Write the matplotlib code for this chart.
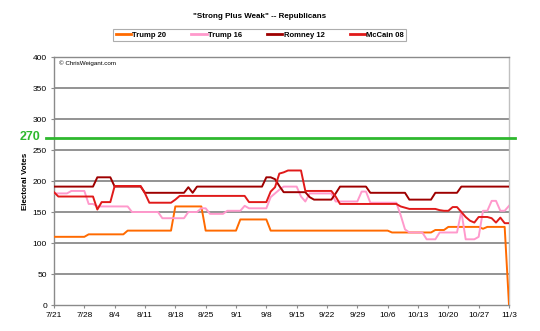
import numpy as np
import pandas as pd
import matplotlib
matplotlib.use('Agg')
from matplotlib import pyplot as plt

plt.rcParams['font.family'] = ['Liberation Sans', 'DejaVu Sans']

# daily values, 7/21 through 11/3
dates = pd.date_range('2020-07-21', '2020-11-03')
tick_labels = ['7/21', '7/28', '8/4', '8/11', '8/18', '8/25', '9/1', '9/8',
               '9/15', '9/22', '9/29', '10/6', '10/13', '10/20', '10/27', '11/3']

trump20 = [110, 110, 110, 110, 110, 110, 110,
           110, 114, 114, 114, 114, 114, 114,
           114, 114, 114, 120, 120, 120, 120,
           120, 120, 120, 120, 120, 120, 120,
           159, 159, 159, 159, 159, 159, 159,
           120, 120, 120, 120, 120, 120, 120,
           120, 138, 138, 138, 138, 138, 138,
           138, 120, 120, 120, 120, 120, 120,
           120, 120, 120, 120, 120, 120, 120,
           120, 120, 120, 120, 120, 120, 120,
           120, 120, 120, 120, 120, 120, 120,
           120, 117, 117, 117, 117, 117, 117,
           117, 117, 117, 117, 121, 121, 121,
           126, 126, 126, 126, 126, 126, 126,
           126, 123, 126, 126, 126, 126, 126,
           0]

trump16 = [180, 180, 180, 180, 184, 184, 184,
           184, 163, 163, 159, 159, 159, 159,
           159, 159, 159, 159, 150, 150, 150,
           150, 150, 150, 150, 140, 140, 140,
           140, 140, 140, 150, 150, 150, 156,
           156, 147, 147, 147, 147, 152, 152,
           152, 152, 160, 156, 156, 156, 156,
           156, 174, 180, 186, 191, 191, 191,
           191, 175, 167, 180, 180, 180, 180,
           180, 180, 167, 167, 167, 167, 167,
           167, 183, 183, 165, 165, 165, 165,
           165, 165, 165, 145, 122, 117, 117,
           117, 117, 106, 106, 106, 117, 117,
           117, 117, 117, 151, 106, 106, 106,
           110, 152, 152, 168, 168, 152, 152,
           160]

romney12 = [191, 191, 191, 191, 191, 191, 191,
            191, 191, 191, 206, 206, 206, 206,
            191, 191, 191, 191, 191, 191, 191,
            181, 181, 181, 181, 181, 181, 181,
            181, 181, 181, 190, 181, 191, 191,
            191, 191, 191, 191, 191, 191, 191,
            191, 191, 191, 191, 191, 191, 191,
            206, 206, 203, 192, 182, 182, 182,
            182, 182, 182, 174, 170, 170, 170,
            170, 170, 180, 191, 191, 191, 191,
            191, 191, 191, 181, 181, 181, 181,
            181, 181, 181, 181, 181, 170, 170,
            170, 170, 170, 170, 181, 181, 181,
            181, 181, 181, 191, 191, 191, 191,
            191, 191, 191, 191, 191, 191, 191,
            191]

mccain08 = [182, 175, 175, 175, 175, 175, 175,
            175, 175, 175, 154, 166, 166, 166,
            192, 192, 192, 192, 192, 192, 192,
            180, 165, 165, 165, 165, 165, 165,
            170, 176, 176, 176, 176, 176, 176,
            176, 176, 176, 176, 176, 176, 176,
            176, 176, 176, 166, 166, 166, 166,
            166, 183, 190, 212, 214, 217, 217,
            217, 217, 184, 184, 184, 184, 184,
            184, 184, 175, 163, 163, 163, 163,
            163, 163, 163, 163, 163, 163, 163,
            163, 163, 163, 159, 157, 155, 155,
            155, 155, 155, 155, 155, 153, 152,
            152, 158, 158, 150, 142, 136, 133,
            142, 142, 142, 140, 133, 141, 132,
            132]

names = ['Trump 20', 'Trump 16', 'Romney 12', 'McCain 08']
colors = ['#ff6a00', '#ff99cc', '#9e0000', '#e01a1a']

fig = plt.figure(figsize=(5.4, 3.31), dpi=100)
ax = fig.add_axes([0.1, 0.0785, 0.8426, 0.7492])

for y in [50, 100, 150, 200, 250, 300, 350]:
    ax.axhline(y, color='#808080', lw=1.2, zorder=1)

# 270 line runs past the plot on both sides
ax.axhline(270, xmin=-0.018, xmax=1.013, color='#2eb82e', lw=2, clip_on=False, zorder=3)
fig.text(0.037, 1 - 137.5 / 331, '270', color='#2eb82e', fontsize=9, fontweight='bold',
         va='center', ha='left')

for vals, name, c in zip([trump20, trump16, romney12, mccain08], names, colors):
    ax.plot(dates, vals, color=c, lw=1.4, label=name, zorder=4)

ax.set_xlim(dates[0], dates[-1])
ax.set_ylim(0, 400)
ax.set_yticks(range(0, 401, 50))
ax.set_xticks(dates[::7])
ax.set_xticklabels(tick_labels)
ax.tick_params(labelsize=6, length=2, color='#8a8a8a', pad=3)
for s in ax.spines.values():
    s.set_color('#8a8a8a')
    s.set_linewidth(1)
ax.spines['right'].set_color('#c0c0c0')

ax.set_ylabel('Electoral Votes', fontsize=5.8, fontweight='bold', labelpad=3)
ax.text(0.012, 0.985, '© ChrisWeigant.com', transform=ax.transAxes, fontsize=4.5,
        va='top', ha='left')

fig.text(0.481, 1 - 16 / 331, '"Strong Plus Weak" -- Republicans', fontsize=5.8,
         fontweight='bold', ha='center', va='center')
leg = fig.legend(loc='center', bbox_to_anchor=(0.481, 1 - 35 / 331), ncol=4,
                 frameon=True, fancybox=False, handlelength=2.0,
                 handletextpad=0.15, columnspacing=3.3, borderpad=0.3,
                 prop={'weight': 'bold', 'size': 5.5})
leg.get_frame().set_edgecolor('#999999')
leg.get_frame().set_linewidth(0.8)
for line in leg.get_lines():
    line.set_linewidth(2)

fig.savefig('out.png', dpi=100)
